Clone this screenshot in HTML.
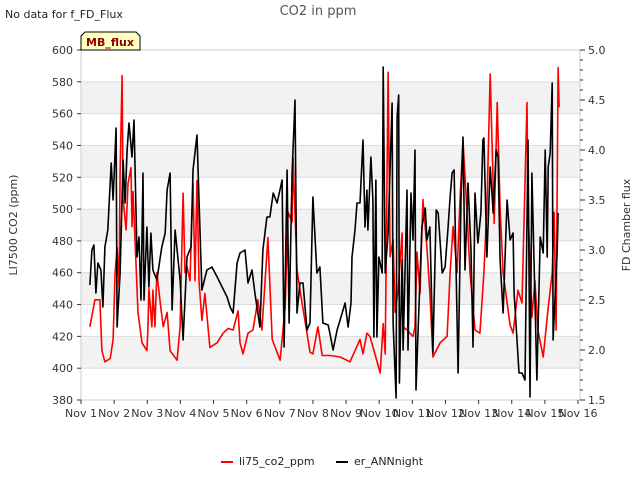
<!DOCTYPE html>
<html><head><meta charset="utf-8"><style>
body{margin:0;background:#fff;font-family:"Liberation Sans","DejaVu Sans",sans-serif;}
svg text{font-family:"DejaVu Sans","Liberation Sans",sans-serif;}
</style></head><body>
<svg id="c" width="640" height="480" xmlns="http://www.w3.org/2000/svg"></svg>
<script>
const xTickLabels=["Nov 1","Nov 2","Nov 3","Nov 4","Nov 5","Nov 6","Nov 7","Nov 8","Nov 9","Nov 10","Nov 11","Nov 12","Nov 13","Nov 14","Nov 15","Nov 16"];
const leftTicks=[380,400,420,440,460,480,500,520,540,560,580,600];
const rightTicks=[1.5,2.0,2.5,3.0,3.5,4.0,4.5,5.0];
const redDays=[.27,.42,.57,.63,.72,.88,.97,1.03,1.09,1.15,1.18,1.24,1.27,1.36,1.42,1.51,1.54,1.57,1.63,1.72,1.84,1.99,2.02,2.05,2.14,2.17,2.23,2.29,2.38,2.48,2.60,2.69,2.90,2.99,3.08,3.14,3.20,3.29,3.38,3.44,3.50,3.56,3.65,3.74,3.89,4.11,4.29,4.44,4.59,4.74,4.80,4.89,5.04,5.19,5.34,5.46,5.64,5.77,6.01,6.16,6.25,6.37,6.40,6.52,6.61,6.82,6.91,7.00,7.15,7.28,7.52,7.82,8.12,8.27,8.42,8.51,8.63,8.72,8.87,9.03,9.12,9.18,9.27,9.33,9.42,9.48,9.57,9.69,9.72,9.84,10.02,10.08,10.14,10.23,10.32,10.44,10.53,10.62,10.84,11.05,11.14,11.23,11.35,11.44,11.53,11.65,11.74,11.89,12.04,12.16,12.25,12.35,12.47,12.56,12.65,12.74,12.95,13.04,13.19,13.31,13.46,13.49,13.61,13.70,13.79,13.95,14.10,14.22,14.28,14.34,14.40,14.43];
const redValues=[426,443,443,411,404,406,418,460,476,451,523,584,506,487,516,526,489,511,481,435,416,411,424,450,426,449,426,460,443,426,435,411,405,426,510,460,464,455,517,455,518,455,430,447,413,416,422,425,424,436,416,409,422,424,443,424,482,418,405,438,498,492,532,462,449,422,410,409,426,408,408,407,404,411,418,409,422,420,409,397,428,409,586,470,481,435,449,485,426,424,420,426,473,447,506,476,447,407,416,420,460,489,460,506,543,498,460,424,422,460,501,585,491,567,501,460,427,422,449,441,567,501,432,455,424,407,438,460,498,424,589,564];
const blackDays=[.27,.33,.39,.45,.51,.60,.66,.72,.81,.91,.97,1.06,1.09,1.18,1.27,1.33,1.39,1.45,1.54,1.60,1.69,1.75,1.81,1.87,1.90,1.99,2.05,2.11,2.17,2.29,2.44,2.54,2.60,2.69,2.75,2.84,2.99,3.08,3.20,3.32,3.38,3.50,3.56,3.65,3.80,3.95,4.11,4.26,4.41,4.50,4.59,4.71,4.80,4.95,5.04,5.16,5.25,5.40,5.49,5.61,5.70,5.80,5.92,6.07,6.13,6.22,6.28,6.37,6.46,6.52,6.61,6.70,6.82,6.91,7.00,7.12,7.21,7.30,7.46,7.52,7.61,7.73,7.82,7.97,8.06,8.15,8.18,8.27,8.33,8.42,8.51,8.57,8.63,8.66,8.75,8.81,8.84,8.90,8.93,8.99,9.09,9.12,9.18,9.27,9.39,9.42,9.51,9.54,9.59,9.61,9.69,9.72,9.84,9.87,9.96,10.02,10.08,10.11,10.17,10.29,10.39,10.44,10.53,10.62,10.72,10.78,10.90,10.99,11.08,11.14,11.20,11.26,11.32,11.38,11.47,11.53,11.59,11.68,11.77,11.83,11.89,11.98,12.07,12.13,12.16,12.25,12.35,12.44,12.53,12.59,12.65,12.74,12.86,12.95,13.04,13.07,13.16,13.22,13.31,13.40,13.49,13.55,13.61,13.76,13.86,13.95,14.01,14.07,14.10,14.16,14.22,14.25,14.37,14.40];
const blackValues=[2.65,3.0,3.05,2.57,2.87,2.80,2.43,3.03,3.2,3.87,3.5,4.22,2.23,2.77,3.9,3.47,4.0,4.27,3.93,4.3,2.93,3.13,2.5,3.77,2.5,3.23,2.63,3.17,2.8,2.7,3.03,3.17,3.6,3.77,2.4,3.2,2.7,2.1,2.93,3.03,3.8,4.15,3.5,2.6,2.8,2.83,2.73,2.63,2.53,2.43,2.37,2.87,2.97,3.0,2.67,2.8,2.57,2.23,3.0,3.33,3.33,3.57,3.47,3.7,2.03,3.8,2.27,3.77,4.5,2.37,2.67,2.67,2.2,2.27,3.53,2.77,2.83,2.27,2.25,2.15,2.0,2.2,2.3,2.47,2.23,2.47,2.93,3.2,3.47,3.47,4.1,3.23,3.6,3.2,3.93,3.5,2.13,3.7,2.13,2.93,2.77,4.83,2.77,3.17,4.47,2.27,1.52,4.33,4.55,1.67,2.9,2.0,3.6,2.0,3.57,3.1,4.0,1.6,2.17,3.23,3.42,3.1,3.23,1.97,3.4,3.37,2.77,2.83,3.23,3.53,3.77,3.8,2.8,1.77,3.5,4.13,2.8,3.67,3.0,2.03,3.57,3.07,3.37,4.1,4.12,2.93,3.83,3.37,4.0,3.93,2.9,2.37,3.5,3.1,3.17,2.57,2.1,1.77,1.77,1.7,4.1,1.53,3.77,1.7,3.13,2.97,4.0,2.93,3.83,3.97,4.67,2.1,2.97,3.37,3.53];

const NS="http://www.w3.org/2000/svg";
const svg=document.getElementById('c');
const L=81,R=580,T=50,B=400;
const xS=d=>L+d*(497/15);
const yL=v=>B-(v-380)/220*(B-T);
const yR=v=>B-(v-1.5)/3.5*(B-T);
function el(tag,attrs,parent){const e=document.createElementNS(NS,tag);for(const k in attrs)e.setAttribute(k,attrs[k]);(parent||svg).appendChild(e);return e;}
function txt(s,attrs,parent){const e=el('text',attrs,parent);e.textContent=s;return e;}

const plot=el('g',{});


el('rect',{x:L,y:T,width:R-L,height:B-T,fill:'#fff'},plot);
for(let i=0;i<leftTicks.length-1;i++){
  if(i%2===1){const b=el('rect',{x:L,y:yL(leftTicks[i+1]),width:R-L,height:yL(leftTicks[i])-yL(leftTicks[i+1]),fill:'#f2f2f2'},plot);
  
  }
}
leftTicks.forEach(v=>{el('line',{x1:L,x2:R,y1:yL(v),y2:yL(v),stroke:'#dcdcdc','stroke-width':1},plot);});
el('rect',{x:L,y:T,width:R-L,height:B-T,fill:'none',stroke:'#cccccc'},plot);

function series(days,vals,yf,color,name){
  const p=el('path',{d:days.map((d,i)=>(i?'L':'M')+xS(d).toFixed(1)+' '+yf(vals[i]).toFixed(1)).join(' '),fill:'none',stroke:color,'stroke-width':1.6,'stroke-linejoin':'round'});
  
  
}
series(redDays,redValues,yL,'#ff0000','li75-co2-line');
series(blackDays,blackValues,yR,'#000000','er-annnight-line');

const xa=el('g',{});


xTickLabels.forEach((s,i)=>{const x=xS(i);el('line',{x1:x,x2:x,y1:B,y2:B+4,stroke:'#333'},xa);
  const t=txt(s,{x:x,y:B+17,'font-size':11,'text-anchor':'middle',fill:'#333'},xa);
  
  });
const ya=el('g',{});


leftTicks.forEach(v=>{el('line',{x1:L-4,x2:L,y1:yL(v),y2:yL(v),stroke:'#333'},ya);
  const t=txt(String(v),{x:L-8,y:yL(v)+4,'font-size':11,'text-anchor':'end',fill:'#333'},ya);
  
  });
const ra=el('g',{});


for(let k=0;k<=35;k++){const v=1.5+k*0.1;const major=k%5===0;el('line',{x1:R,x2:R+(major?5:3),y1:yR(v),y2:yR(v),stroke:'#333'},ra);}
rightTicks.forEach(v=>{const t=txt(v.toFixed(1),{x:R+8,y:yR(v)+4,'font-size':11,fill:'#333'},ra);
  
  });

let t;
t=txt('CO2 in ppm',{x:318,y:15,'font-size':13,'text-anchor':'middle',fill:'#555'});


t=txt('No data for f_FD_Flux',{x:5,y:18,'font-size':11,fill:'#222'});


t=txt('LI7500 CO2 (ppm)',{x:17,y:225,'font-size':11,'text-anchor':'middle',fill:'#333',transform:'rotate(-90 17 225)'});


t=txt('FD Chamber flux',{x:630,y:225,'font-size':11,'text-anchor':'middle',fill:'#333',transform:'rotate(-90 630 225)'});



const mb=el('g',{});


el('path',{d:'M81 50 L81 36 L85 32 L136 32 L140 36 L140 50 Z',fill:'#ffffc0',stroke:'#000','stroke-width':1},mb);
txt('MB_flux',{x:110,y:46,'font-size':11,'font-weight':'bold','text-anchor':'middle',fill:'#8b0000'},mb);

const lg=el('g',{});


const e1=el('g',{},lg);


el('line',{x1:221,x2:233,y1:462,y2:462,stroke:'#ff0000','stroke-width':2},e1);
txt('li75_co2_ppm',{x:239,y:465,'font-size':11,fill:'#222'},e1);
const e2=el('g',{},lg);


el('line',{x1:336,x2:348,y1:462,y2:462,stroke:'#000','stroke-width':2},e2);
txt('er_ANNnight',{x:354,y:465,'font-size':11,fill:'#222'},e2);
</script>
</body></html>
